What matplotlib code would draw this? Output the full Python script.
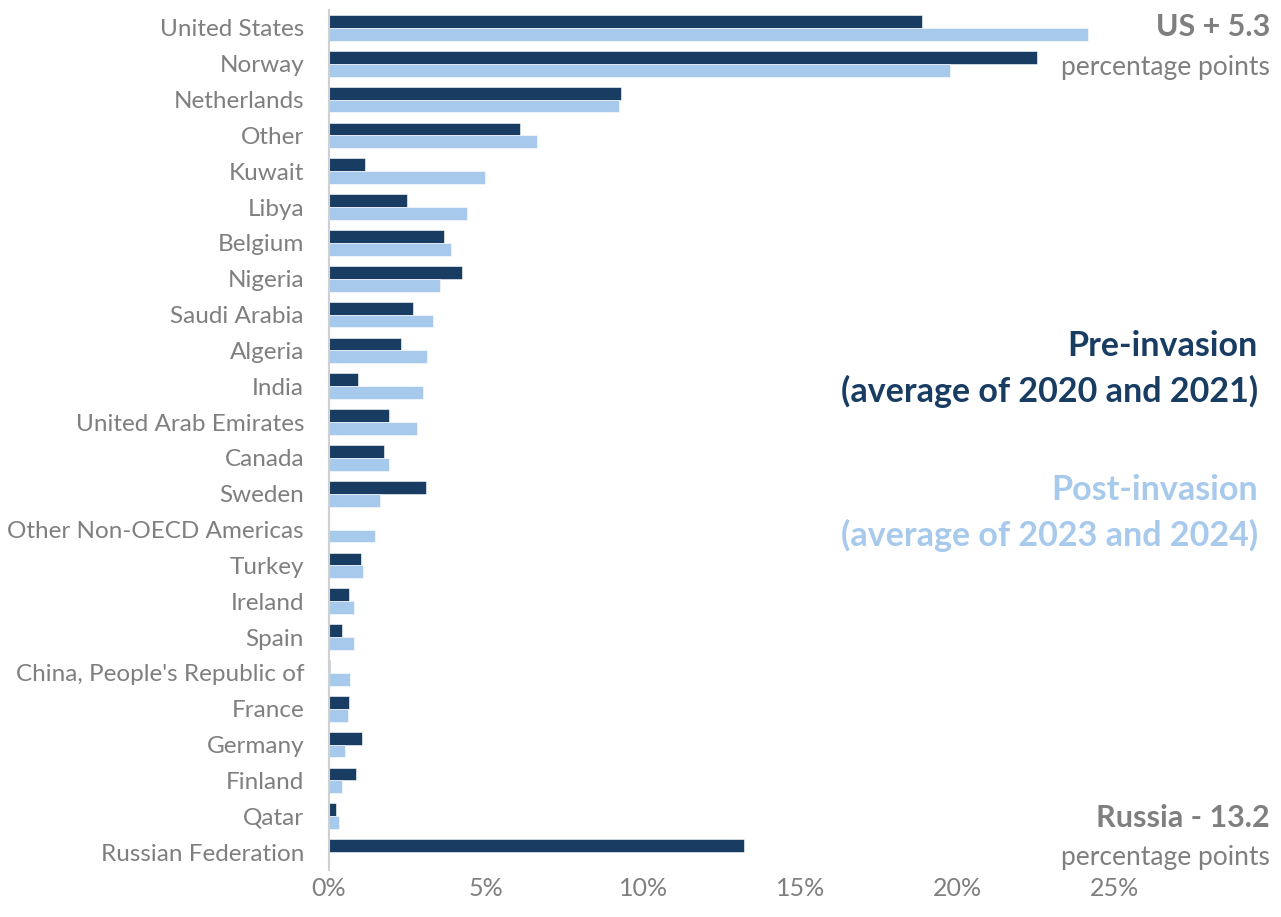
import numpy as np
import matplotlib.pyplot as plt

# =========================
# Data (share of imports, %)
# =========================
countries = ["United States", "Norway", "Netherlands", "Other", "Kuwait", "Libya",
             "Belgium", "Nigeria", "Saudi Arabia", "Algeria", "India",
             "United Arab Emirates", "Canada", "Sweden", "Other Non-OECD Americas",
             "Turkey", "Ireland", "Spain", "China, People's Republic of", "France",
             "Germany", "Finland", "Qatar", "Russian Federation"]
pre_invasion = [18.86, 22.52, 9.29, 6.09, 1.16, 2.49, 3.65, 4.22, 2.67, 2.30, 0.93,
                1.91, 1.76, 3.09, 0.0, 1.01, 0.64, 0.41, 0.04, 0.64, 1.05, 0.87,
                0.22, 13.2]
post_invasion = [24.14, 19.75, 9.22, 6.62, 4.97, 4.40, 3.87, 3.54, 3.31, 3.12, 3.00,
                 2.81, 1.91, 1.61, 1.46, 1.08, 0.78, 0.78, 0.67, 0.59, 0.52, 0.40,
                 0.33, 0.0]
xticks = [0, 5, 10, 15, 20, 25]

dark = "#193c63"
light = "#a6c9ec"
grey = "#7f7f7f"
font = ["Lato", "DejaVu Sans"]

# =========================
# Plot
# =========================
fig = plt.figure(figsize=(12.81, 9.17), dpi=100)
ax = fig.add_axes([329 / 1281, 1 - 870 / 917, (1272 - 329) / 1281, 860 / 917])

y = np.arange(len(countries))
h = 0.36
ax.barh(y - h / 2, pre_invasion, height=h, color=dark, edgecolor="white", linewidth=0.4)
ax.barh(y + h / 2, post_invasion, height=h, color=light, edgecolor="white", linewidth=0.4)

ax.set_xlim(0, 30)
ax.set_ylim(len(countries) - 0.5, -0.5)
ax.set_yticks(y)
ax.set_yticklabels(countries, family=font, fontsize=17.5, color=grey)
ax.set_xticks(xticks)
ax.set_xticklabels([f"{t}%" for t in xticks], family=font, fontsize=18, color=grey)
ax.tick_params(axis="both", length=0)
ax.tick_params(axis="y", pad=18)
ax.tick_params(axis="x", pad=5)

for s in ["top", "right", "bottom"]:
    ax.spines[s].set_visible(False)
ax.spines["left"].set_color("#d0d0d0")
ax.spines["left"].set_linewidth(1.5)

# annotations on the right
fig.text(1270 / 1281, 1 - 27 / 917, "US + 5.3", ha="right", va="center",
         family=font, fontsize=22, fontweight="bold", color=grey)
fig.text(1270 / 1281, 1 - 67 / 917, "percentage points", ha="right", va="center",
         family=font, fontsize=19, color=grey)
fig.text(1258 / 1281, 1 - 346 / 917, "Pre-invasion", ha="right", va="center",
         family=font, fontsize=24.5, fontweight="bold", color=dark)
fig.text(1258 / 1281, 1 - 391 / 917, "(average of 2020 and 2021)", ha="right", va="center",
         family=font, fontsize=24.5, fontweight="bold", color=dark)
fig.text(1258 / 1281, 1 - 490 / 917, "Post-invasion", ha="right", va="center",
         family=font, fontsize=24.5, fontweight="bold", color=light)
fig.text(1258 / 1281, 1 - 535 / 917, "(average of 2023 and 2024)", ha="right", va="center",
         family=font, fontsize=24.5, fontweight="bold", color=light)
fig.text(1270 / 1281, 1 - 818 / 917, "Russia - 13.2", ha="right", va="center",
         family=font, fontsize=22, fontweight="bold", color=grey)
fig.text(1270 / 1281, 1 - 857 / 917, "percentage points", ha="right", va="center",
         family=font, fontsize=19, color=grey)

fig.savefig("out.png", dpi=100, facecolor="white")
